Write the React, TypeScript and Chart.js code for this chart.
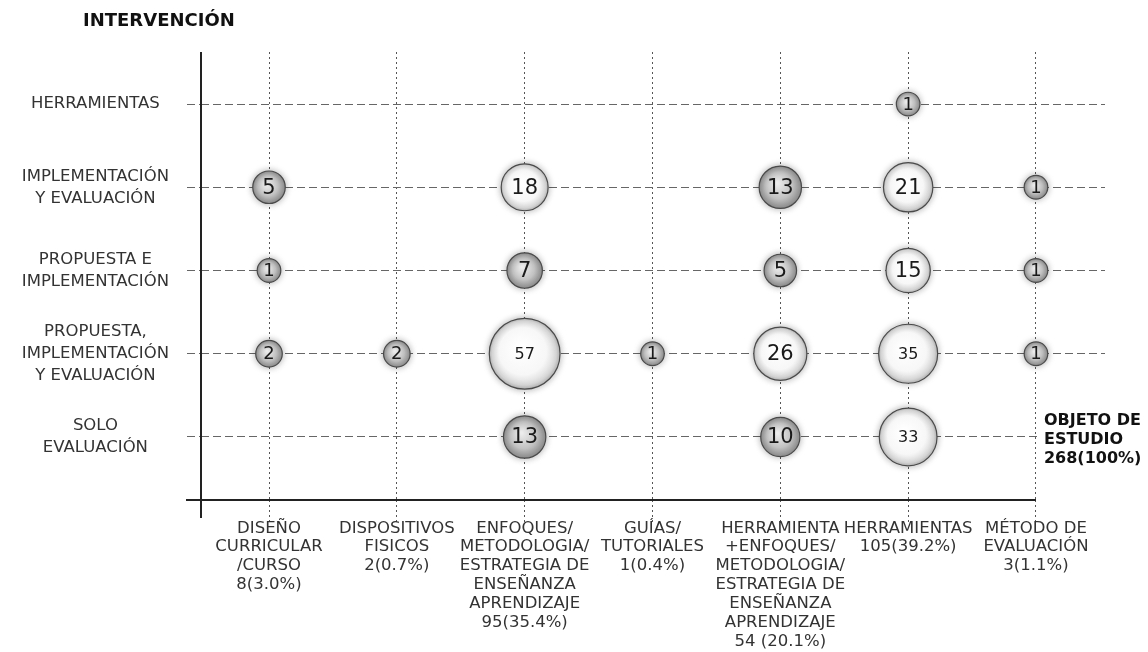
import React, { useEffect, useRef } from "react";
import { Chart, registerables } from "chart.js";

Chart.register(...registerables);

// X categories (objeto de estudio) with counts
const categories: string[][] = [
  ["DISEÑO", "CURRICULAR", "/CURSO", "8(3.0%)"],
  ["DISPOSITIVOS", "FISICOS", "2(0.7%)"],
  ["ENFOQUES/", "METODOLOGIA/", "ESTRATEGIA DE", "ENSEÑANZA", "APRENDIZAJE", "95(35.4%)"],
  ["GUÍAS/", "TUTORIALES", "1(0.4%)"],
  ["HERRAMIENTA", "+ENFOQUES/", "METODOLOGIA/", "ESTRATEGIA DE", "ENSEÑANZA", "APRENDIZAJE", "54 (20.1%)"],
  ["HERRAMIENTAS", "105(39.2%)"],
  ["MÉTODO DE", "EVALUACIÓN", "3(1.1%)"],
];

// Y categories (intervención), bottom to top
const rowLabels: string[][] = [
  ["SOLO", "EVALUACIÓN"],
  ["PROPUESTA,", "IMPLEMENTACIÓN", "Y EVALUACIÓN"],
  ["PROPUESTA E", "IMPLEMENTACIÓN"],
  ["IMPLEMENTACIÓN", "Y EVALUACIÓN"],
  ["HERRAMIENTAS"],
];

// Counts per row, one value per x category (null = no bubble)
const soloEvaluacion = [null, null, 13, null, 10, 33, null];
const propuestaImplementacionEvaluacion = [2, 2, 57, 1, 26, 35, 1];
const propuestaImplementacion = [1, null, 7, null, 5, 15, 1];
const implementacionEvaluacion = [5, null, 18, null, 13, 21, 1];
const herramientasRow = [null, null, null, null, null, 1, null];

const rowSeries: (number | null)[][] = [
  soloEvaluacion,
  propuestaImplementacionEvaluacion,
  propuestaImplementacion,
  implementacionEvaluacion,
  herramientasRow,
];

const yAxisTitle = "INTERVENCIÓN";
const xAxisTitle = ["OBJETO DE", "ESTUDIO", "268(100%)"];

const FONT = "'DejaVu Sans', Verdana, sans-serif";

const radiusFor = (v: number) => 8.2 + 3.6 * Math.sqrt(v);
const labelSizeFor = (v: number) => (v >= 33 ? 16 : v <= 2 ? 18 : 21);

type P = { x: number; y: number; v: number };
const points: P[] = [];
rowSeries.forEach((series, row) => {
  series.forEach((v, col) => {
    if (v != null) points.push({ x: col, y: row, v });
  });
});

const overlayPlugin = {
  id: "overlay",
  beforeDatasetsDraw(chart: any) {
    const { ctx, chartArea: a, scales } = chart;
    const xs = scales.x;
    ctx.save();
    // keep the area of the "objeto de estudio" note clear of the grid
    const nx = xs.getPixelForValue(categories.length - 1) + 4;
    const ny = scales.y.getPixelForValue(0) - 28;
    ctx.fillStyle = "#fff";
    ctx.fillRect(nx, ny, chart.width - nx, 62);
    ctx.strokeStyle = "#222";
    ctx.lineWidth = 2;
    ctx.beginPath();
    ctx.moveTo(a.left - 15, a.bottom);
    ctx.lineTo(xs.getPixelForValue(categories.length - 1), a.bottom);
    ctx.stroke();
    ctx.beginPath();
    ctx.moveTo(a.left, a.top);
    ctx.lineTo(a.left, a.bottom + 18);
    ctx.stroke();
    ctx.restore();
    // soft halo for bubbles
    ctx.save();
    ctx.shadowColor = "rgba(0,0,0,0.3)";
    ctx.shadowBlur = 7;
  },
  afterDatasetsDraw(chart: any) {
    const { ctx } = chart;
    ctx.restore();
    const meta = chart.getDatasetMeta(0);
    ctx.save();
    ctx.fillStyle = "#1a1a1a";
    ctx.textAlign = "center";
    ctx.textBaseline = "middle";
    meta.data.forEach((el: any, i: number) => {
      const raw = chart.data.datasets[0].data[i] as P;
      ctx.font = `${labelSizeFor(raw.v)}px ${FONT}`;
      ctx.fillText(String(raw.v), el.x, el.y + 1);
    });
    ctx.restore();
  },
  afterDraw(chart: any) {
    const { ctx, scales } = chart;
    ctx.save();
    ctx.fillStyle = "#111";
    ctx.textBaseline = "middle";
    ctx.textAlign = "left";
    ctx.font = `bold 18px ${FONT}`;
    ctx.fillText(yAxisTitle, 83, 21);
    ctx.font = `bold 16px ${FONT}`;
    const x0 = scales.x.getPixelForValue(categories.length - 1) + 8;
    const y0 = scales.y.getPixelForValue(0) - 16;
    xAxisTitle.forEach((t, i) => ctx.fillText(t, x0, y0 + i * 19));
    ctx.restore();
  },
};

export default function App() {
  const ref = useRef<HTMLCanvasElement>(null);
  useEffect(() => {
    document.body.style.margin = "0";
    const chart = new Chart(ref.current!, {
      type: "bubble",
      data: {
        datasets: [
          {
            data: points as any,
            radius: (c: any) => (c.raw ? radiusFor(c.raw.v) : 10),
            backgroundColor: (c: any) => {
              const raw = c.raw as P | undefined;
              const chart = c.chart;
              if (!raw || !chart.scales?.x || !chart.scales?.y) return "#ddd";
              const px = chart.scales.x.getPixelForValue(raw.x);
              const py = chart.scales.y.getPixelForValue(raw.y);
              const r = radiusFor(raw.v);
              if (!isFinite(px) || !isFinite(py)) return "#ddd";
              const g = chart.ctx.createRadialGradient(px - r * 0.15, py - r * 0.2, r * 0.05, px, py, r);
              if (raw.v >= 15) {
                g.addColorStop(0, "#ffffff");
                g.addColorStop(0.65, "#f7f7f7");
                g.addColorStop(0.9, "#dadada");
                g.addColorStop(1, "#b8b8b8");
              } else {
                g.addColorStop(0, "#ececec");
                g.addColorStop(0.6, "#c2c2c2");
                g.addColorStop(1, "#909090");
              }
              return g;
            },
            borderColor: "#4a4a4a",
            borderWidth: 1.2,
            hoverRadius: 0,
          } as any,
        ],
      },
      options: {
        animation: false,
        responsive: false,
        devicePixelRatio: 1,
        clip: false as any,
        layout: { padding: { top: 52, right: 43, left: 0, bottom: 0 } },
        plugins: { legend: { display: false }, tooltip: { enabled: false }, title: { display: false } },
        events: [],
        scales: {
          x: {
            type: "linear",
            min: -0.532,
            max: 6.54,
            afterBuildTicks: (s: any) => {
              s.ticks = categories.map((_, i) => ({ value: i }));
            },
            afterFit: (s: any) => {
              s.height = 152;
            },
            border: { display: false, dash: [2, 3] },
            grid: {
              color: "#555",
              lineWidth: 1,
              tickLength: 22,
              tickBorderDash: [2, 3],
              drawTicks: true,
            },
            ticks: {
              autoSkip: false,
              maxRotation: 0,
              minRotation: 0,
              padding: -3,
              color: "#333",
              font: { family: FONT, size: 16.5, lineHeight: 1.14 },
              callback: (v: any) => categories[Math.round(Number(v))] ?? "",
            },
          },
          y: {
            type: "linear",
            min: -0.757,
            max: 4.625,
            afterBuildTicks: (s: any) => {
              s.ticks = rowLabels.map((_, i) => ({ value: i }));
            },
            afterFit: (s: any) => {
              s.width = 201;
            },
            border: { display: false, dash: [8, 4] },
            grid: {
              color: "#666",
              lineWidth: 1,
              tickLength: 14,
              tickBorderDash: [8, 4],
              drawTicks: true,
            },
            ticks: {
              crossAlign: "center",
              padding: 18,
              color: "#333",
              font: { family: FONT, size: 16.5, lineHeight: 1.33 },
              callback: (v: any) => rowLabels[Math.round(Number(v))] ?? "",
            },
          },
        },
      },
      plugins: [overlayPlugin],
    } as any);
    return () => chart.destroy();
  }, []);
  return (
    <div style={{ position: "absolute", left: 0, top: 0, width: 1148, height: 652, background: "#fff" }}>
      <canvas ref={ref} width={1148} height={652} style={{ display: "block", width: 1148, height: 652 }} />
    </div>
  );
}
